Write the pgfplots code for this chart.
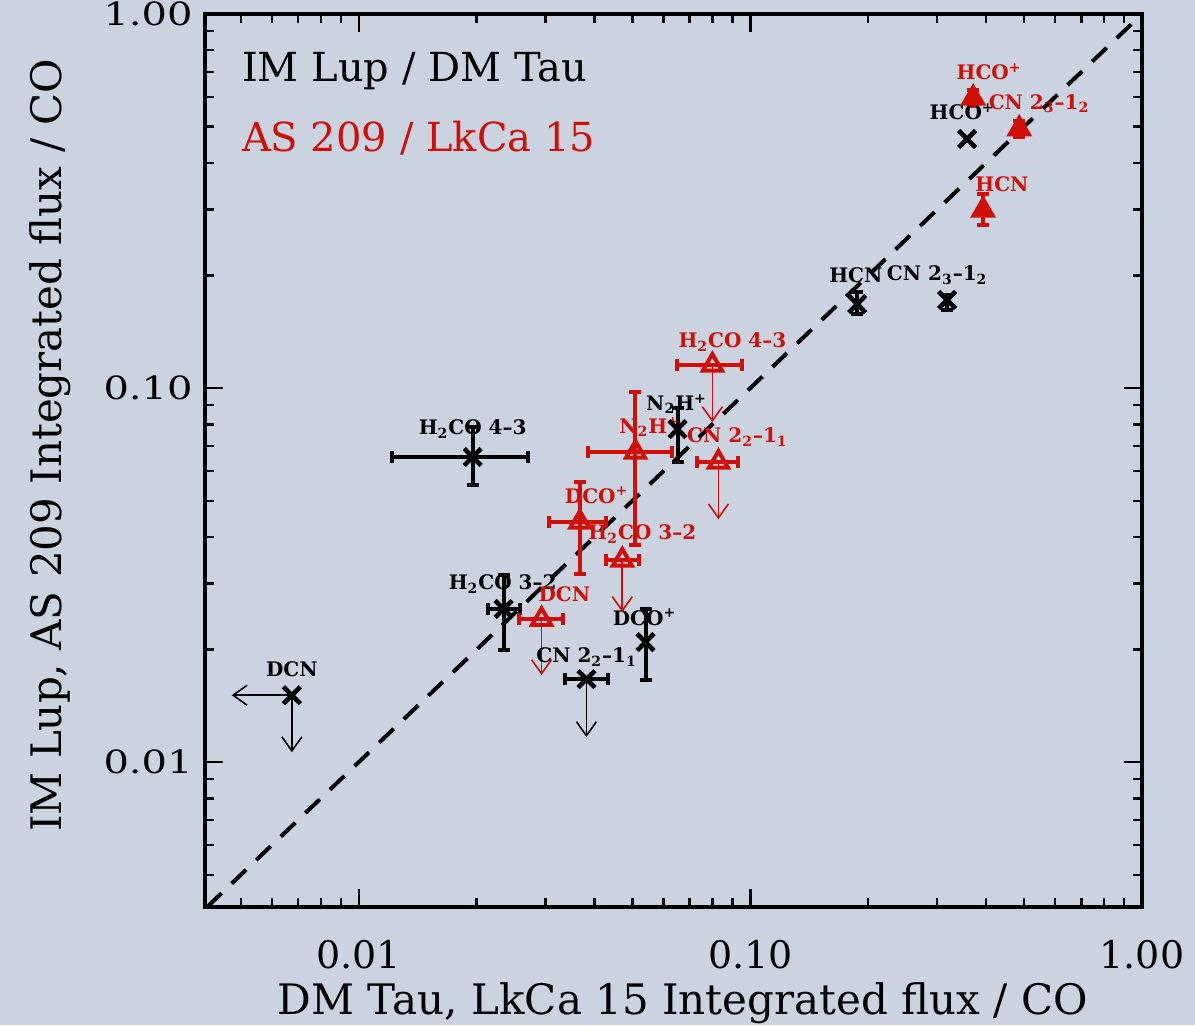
\documentclass[border=0pt]{standalone}
\usepackage{fontspec}
\setmainfont{DejaVu Serif}
\newfontfamily\ywide[FakeStretch=1.25]{DejaVu Serif}
\usepackage{pgfplots}
\pgfplotsset{compat=1.18}
\usetikzlibrary{arrows.meta}
\definecolor{bg}{RGB}{203,211,224}
\definecolor{idlred}{RGB}{208,16,8}

\pgfplotsset{
  blk/.style={only marks, black, mark=x, mark size=6pt, line width=2.3pt,
    error bars/error bar style={line width=2pt},
    error bars/error mark options={rotate=90, mark size=3pt, line width=2pt}},
  rtri/.style={only marks, idlred, mark=triangle, mark size=5.5pt, line width=2pt,
    error bars/error bar style={line width=2pt},
    error bars/error mark options={rotate=90, mark size=3pt, line width=2pt}},
  ul/.style={line width=0.8pt, -{Straight Barb[length=7pt,width=10pt]}},
}
\newcommand\lbl{\bfseries\fontsize{10}{10}\selectfont}

\begin{document}
\begin{tikzpicture}
\fill[bg] (-102.5pt,-59pt) rectangle (495pt,453.5pt);
\begin{axis}[
  at={(0,0)}, anchor=south west,
  width=468.5pt, height=446.5pt, scale only axis,
  xmode=log, ymode=log,
  xmin=0.00405, xmax=1, ymin=0.0041, ymax=1,
  axis line style={line width=2pt},
  every tick/.style={black, line width=1.2pt},
  major tick length=9pt, minor tick length=4.5pt,
  xtick={0.01,0.1,1}, xticklabels={0.01,0.10,1.00},
  ytick={0.01,0.1,1}, yticklabels={0.01,0.10,1.00},
  minor xtick={0.005,0.006,0.007,0.008,0.009,0.02,0.03,0.04,0.05,0.06,0.07,0.08,0.09,0.2,0.3,0.4,0.5,0.6,0.7,0.8,0.9},
  minor ytick={0.005,0.006,0.007,0.008,0.009,0.02,0.03,0.04,0.05,0.06,0.07,0.08,0.09,0.2,0.3,0.4,0.5,0.6,0.7,0.8,0.9},
  xticklabel style={font=\fontsize{19}{19}\selectfont, anchor=center, yshift=-24pt},
  yticklabel style={font=\ywide\fontsize{16}{16}\selectfont, anchor=east, inner sep=0pt, xshift=-6pt},
  xlabel={DM Tau, LkCa 15 Integrated flux / CO},
  ylabel={IM Lup, AS 209 Integrated flux / CO},
  xlabel style={at={(axis description cs:0.51,-0.1075)}, anchor=center, font=\fontsize{21}{21}\selectfont},
  ylabel style={at={(axis description cs:-0.165,0.517)}, anchor=center, font=\fontsize{21}{21}\selectfont},
  clip=false,
]
% 1:1 line
\addplot[black, line width=2pt, dash pattern=on 10pt off 7pt] coordinates {(0.0041,0.0041) (1,1)};

% upper limits
\addplot[ul, black] coordinates {(0.03815,0.01667) (0.03815,0.01167)};
\addplot[ul, black] coordinates {(0.00675,0.0151) (0.00675,0.01063)};
\addplot[ul, black] coordinates {(0.00675,0.0151) (0.00474,0.0151)};
\addplot[ul, idlred] coordinates {(0.0800,0.1152) (0.0800,0.0811)};
\addplot[ul, idlred] coordinates {(0.0829,0.0634) (0.0829,0.0446)};
\addplot[ul, idlred] coordinates {(0.0471,0.0347) (0.0471,0.0252)};
\addplot[ul, idlred] coordinates {(0.0293,0.0241) (0.0293,0.0171)};

% IM Lup / DM Tau
\addplot[blk] coordinates {(0.3577,0.4633)};
\addplot[blk, error bars/.cd, y dir=both, y explicit] coordinates {
  (0.1875,0.1677) += (0,0.0129) -= (0,0.0100)
  (0.318,0.1719) += (0,0.006) -= (0,0.010)
  (0.0652,0.0777) += (0,0.011) -= (0,0.0143)
  (0.0540,0.02094) += (0,0.0047) -= (0,0.0044)
};
\addplot[blk, error bars/.cd, x dir=both, x explicit, y dir=both, y explicit] coordinates {
  (0.01954,0.0654) += (0.0075,0.0133) -= (0.0074,0.0103)
  (0.02344,0.02566) += (0.0023,0.0059) -= (0.0020,0.0057)
};
\addplot[blk, error bars/.cd, x dir=both, x explicit] coordinates {
  (0.03815,0.01667) += (0.0051,0) -= (0.0046,0)
};
\addplot[blk] coordinates {(0.00675,0.0151)};

% AS 209 / LkCa 15
\addplot[rtri, mark=triangle*, error bars/.cd, y dir=both, y explicit] coordinates {
  (0.3707,0.596) += (0,0.03) -= (0,0.03)
  (0.486,0.493) += (0,0.025) -= (0,0.025)
  (0.393,0.299) += (0,0.031) -= (0,0.026)
};
\addplot[rtri, error bars/.cd, x dir=both, x explicit] coordinates {
  (0.0800,0.1152) += (0.0154,0) -= (0.0149,0)
  (0.0829,0.0634) += (0.0103,0) -= (0.0097,0)
  (0.0471,0.0347) += (0.0049,0) -= (0.0042,0)
  (0.0293,0.0241) += (0.0040,0) -= (0.0036,0)
};
\addplot[rtri, error bars/.cd, x dir=both, x explicit, y dir=both, y explicit] coordinates {
  (0.0509,0.0674) += (0.0123,0.0302) -= (0.0123,0.0294)
  (0.0367,0.0438) += (0.0062,0.0123) -= (0.0060,0.0120)
};

% labels
\node[font=\lbl] at (axis cs:0.3475,0.547) {HCO\textsuperscript{+}};
\node[font=\lbl] at (axis cs:0.186,0.2006) {HCN};
\node[font=\lbl] at (axis cs:0.300,0.2006) {CN 2\textsubscript{3}--1\textsubscript{2}};
\node[font=\lbl] at (axis cs:0.0648,0.0906) {N\textsubscript{2}H\textsuperscript{+}};
\node[font=\lbl] at (axis cs:0.01954,0.0777) {H\textsubscript{2}CO 4--3};
\node[font=\lbl] at (axis cs:0.02331,0.0299) {H\textsubscript{2}CO 3--2};
\node[font=\lbl] at (axis cs:0.0537,0.0244) {DCO\textsuperscript{+}};
\node[font=\lbl] at (axis cs:0.0382,0.0191) {CN 2\textsubscript{2}--1\textsubscript{1}};
\node[font=\lbl] at (axis cs:0.00675,0.01774) {DCN};

\node[font=\lbl, text=idlred] at (axis cs:0.407,0.700) {HCO\textsuperscript{+}};
\node[font=\lbl, text=idlred] at (axis cs:0.546,0.575) {CN 2\textsubscript{3}--1\textsubscript{2}};
\node[font=\lbl, text=idlred] at (axis cs:0.439,0.351) {HCN};
\node[font=\lbl, text=idlred] at (axis cs:0.0900,0.1327) {H\textsubscript{2}CO 4--3};
\node[font=\lbl, text=idlred] at (axis cs:0.0553,0.0787) {N\textsubscript{2}H\textsuperscript{+}};
\node[font=\lbl, text=idlred] at (axis cs:0.0927,0.0740) {CN 2\textsubscript{2}--1\textsubscript{1}};
\node[font=\lbl, text=idlred] at (axis cs:0.0405,0.0517) {DCO\textsuperscript{+}};
\node[font=\lbl, text=idlred] at (axis cs:0.0530,0.0407) {H\textsubscript{2}CO 3--2};
\node[font=\lbl, text=idlred] at (axis cs:0.0335,0.0281) {DCN};

\node[anchor=west, font=\fontsize{20}{20}\selectfont] at (rel axis cs:0.032,0.936) {IM Lup / DM Tau};
\node[anchor=west, font=\fontsize{20}{20}\selectfont, text=idlred] at (rel axis cs:0.032,0.861) {AS 209 / LkCa 15};
\end{axis}
\pgfresetboundingbox
\path (-102.5pt,-59pt) rectangle (495pt,453.5pt);
\end{tikzpicture}
\end{document}
